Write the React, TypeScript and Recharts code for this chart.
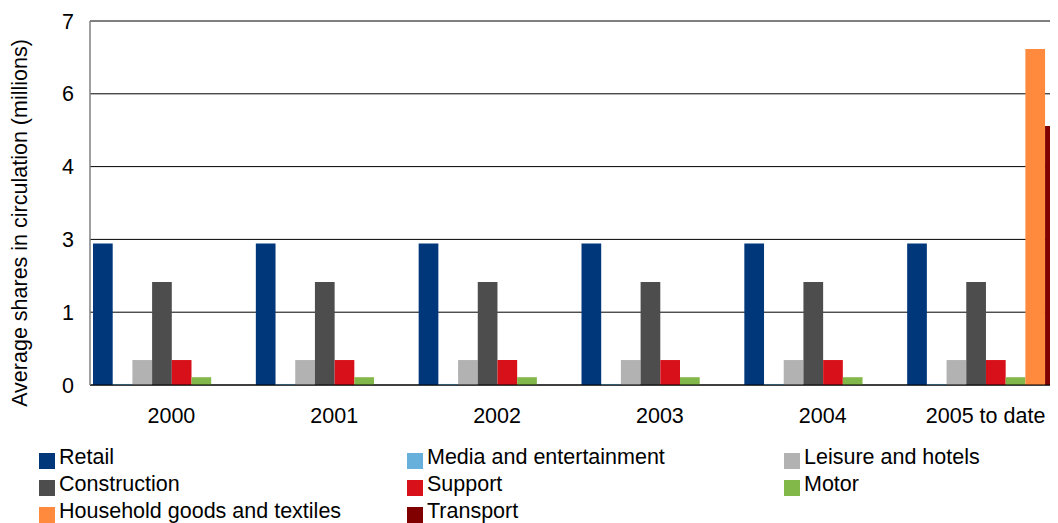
import React from "react";
import { BarChart, Bar, XAxis, YAxis, CartesianGrid } from "recharts";

const categories = ["2000", "2001", "2002", "2003", "2004", "2005 to date"];
const retail = [2.72, 2.72, 2.72, 2.72, 2.72, 2.72];
const media = [0.02, 0.02, 0.02, 0.02, 0.02, 0.02];
const leisure = [0.48, 0.48, 0.48, 0.48, 0.48, 0.48];
const construction = [1.98, 1.98, 1.98, 1.98, 1.98, 1.98];
const support = [0.48, 0.48, 0.48, 0.48, 0.48, 0.48];
const motor = [0.15, 0.15, 0.15, 0.15, 0.15, 0.15];
const household = [0, 0, 0, 0, 0, 6.46];
const transport = [0, 0, 0, 0, 0, 4.98];
const yTicks = [0, 1.4, 2.8, 4.2, 5.6, 7];

const seriesNames = [
  "Retail",
  "Media and entertainment",
  "Leisure and hotels",
  "Construction",
  "Support",
  "Motor",
  "Household goods and textiles",
  "Transport",
];
const seriesValues = [retail, media, leisure, construction, support, motor, household, transport];
const seriesColors = [
  "#00377A",
  "#68B0DC",
  "#B2B2B2",
  "#4D4D4D",
  "#D7101A",
  "#82B74A",
  "#FF8A3D",
  "#800000",
];

const data = categories.map((c, i) => {
  const row: Record<string, string | number> = { category: c };
  seriesNames.forEach((n, s) => {
    row[n] = seriesValues[s][i];
  });
  return row;
});

const FONT = "'Liberation Sans', Arial, sans-serif";
const FS = 21.5;

const legendCols = [39, 407, 784];
const legendRowTop = 453;
const legendRowStep = 27;

export default function App() {
  return (
    <div
      style={{
        position: "relative",
        marginLeft: -8,
        marginTop: -8,
        width: 1058,
        height: 523,
        overflow: "hidden",
        background: "#fff",
        fontFamily: FONT,
      }}
    >
      <BarChart
        width={1067}
        height={523}
        data={data}
        margin={{ top: 21, right: 0, left: 0, bottom: 98 }}
        barSize={19.7}
        barGap={0}
      >
        <CartesianGrid vertical={false} stroke="#000" strokeWidth={1} />
        <XAxis
          dataKey="category"
          height={40}
          tickLine={false}
          tickSize={0}
          tickMargin={22.7}
          axisLine={{ stroke: "#000", strokeWidth: 1 }}
          tick={{ fill: "#000", fontSize: FS, fontFamily: FONT }}
          interval={0}
        />
        <YAxis
          width={90}
          domain={[0, 7]}
          ticks={yTicks}
          tickFormatter={(v: number) => String(Math.round(v))}
          tickLine={false}
          tickSize={0}
          tickMargin={16}
          axisLine={{ stroke: "#808080", strokeWidth: 1.5 }}
          tick={{ fill: "#000", fontSize: FS, fontFamily: FONT }}
          label={{
            content: () => (
              <text
                x={27}
                y={223}
                transform="rotate(-90 27 223)"
                textAnchor="middle"
                fill="#000"
                fontSize={FS}
                fontFamily={FONT}
              >
                Average shares in circulation (millions)
              </text>
            ),
          }}
        />
        {seriesNames.map((n, i) => (
          <Bar key={n} dataKey={n} fill={seriesColors[i]} isAnimationActive={false} />
        ))}
      </BarChart>
      {seriesNames.map((n, i) => {
        const col = i % 3;
        const row = Math.floor(i / 3);
        const top = legendRowTop + row * legendRowStep;
        return (
          <div key={n}>
            <div
              style={{
                position: "absolute",
                left: legendCols[col],
                top,
                width: 16,
                height: 16,
                background: seriesColors[i],
              }}
            />
            <div
              style={{
                position: "absolute",
                left: legendCols[col] + 20,
                top: top - 6.2,
                fontSize: FS,
                lineHeight: "20px",
                color: "#000",
                whiteSpace: "nowrap",
              }}
            >
              {n}
            </div>
          </div>
        );
      })}
    </div>
  );
}
